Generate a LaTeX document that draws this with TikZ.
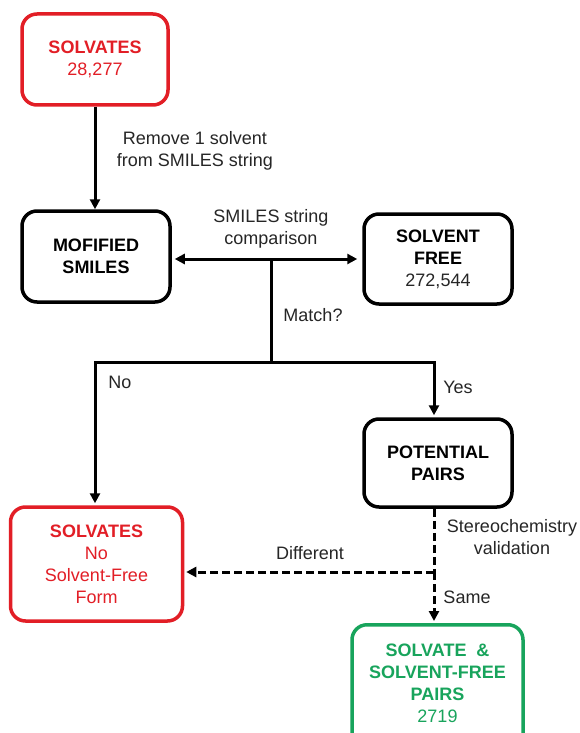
\documentclass[tikz,border=0pt]{standalone}
\usepackage{fontspec}
\setmainfont{Liberation Sans}
\usetikzlibrary{arrows.meta}
\definecolor{myred}{RGB}{226,30,38}
\definecolor{mygreen}{RGB}{24,164,92}
\definecolor{txt}{RGB}{38,38,38}
\begin{document}
\begin{tikzpicture}[x=1pt,y=-1pt,
 box/.style={draw, line width=3.5pt, rounded corners=15pt, align=center, inner sep=0pt, font=\fontsize{18}{22}\selectfont},
 lbl/.style={align=center, text=txt, font=\fontsize{18}{22}\selectfont, inner sep=0pt},
 tip/.style={-{Triangle[length=10pt,width=10pt]}},
 arr/.style={line width=3pt, tip},
 ln/.style={line width=3pt},
 dsh/.style={dash pattern=on 8pt off 4pt}]
\useasboundingbox (0,0) rectangle (580,733);
\fill[white] (0,0) rectangle (580,733);
\clip (0,0) rectangle (580,733);

\node[box, draw=myred, text=myred, minimum width=146pt, minimum height=91pt] (solv) at (95,59.5) {\textbf{SOLVATES}\\28,277};
\node[box, minimum width=148pt, minimum height=91pt] (mod) at (96,256.5) {\textbf{MOFIFIED}\\\textbf{SMILES}};
\node[box, minimum width=148pt, minimum height=90pt] (sf) at (438,259) {\textbf{SOLVENT}\\\textbf{FREE}\\\textcolor{txt}{272,544}};
\node[box, minimum width=148pt, minimum height=88pt] (pp) at (438,463) {\textbf{POTENTIAL}\\\textbf{PAIRS}};
\node[box, draw=myred, text=myred, minimum width=172pt, minimum height=114pt] (nosf) at (96.5,564) {\textbf{SOLVATES}\\No\\Solvent-Free\\Form};
\node[box, draw=mygreen, minimum width=171pt, minimum height=134pt, anchor=north] (pairs) at (437.5,623) {};
\node[lbl, text=mygreen] (pairstext) at (437.5,683) {\textbf{SOLVATE \ \&}\\\textbf{SOLVENT-FREE}\\\textbf{PAIRS}\\2719};

\coordinate (cmp) at (271,259);
\coordinate (split) at (271,362);
\coordinate (lt) at (95,362);
\coordinate (rt) at (434,362);
\coordinate (dj) at (434,572);

\draw[arr] (solv.south) -- (solv.south |- mod.north);
\draw[line width=3pt, {Triangle[length=10pt,width=10pt]}-{Triangle[length=10pt,width=10pt]}, shorten <=3pt, shorten >=5pt] (mod.east |- cmp) -- (sf.west |- cmp);
\draw[ln] (cmp) -- (split);
\draw[arr, shorten >=2pt, line join=miter] (split) -- (lt) -- (lt |- nosf.north);
\draw[arr, shorten >=2pt, line join=miter] (split) -- (rt) -- (rt |- pp.north);
\draw[ln, dsh] (pp.south -| dj) -- (dj);
\draw[arr, dsh, shorten >=2pt] (dj) -- (nosf.east |- dj);
\draw[arr, dsh, shorten >=2pt] (dj) -- (dj |- pairs.north);

\node[lbl] (l1) at (195,151) {Remove 1 solvent\\from SMILES string};
\node[lbl] (l2) at (271,229) {SMILES string\\comparison};
\node[lbl] (l3) at (313,315) {Match?};
\node[lbl] (l4) at (120,382) {No};
\node[lbl] (l5) at (458,387) {Yes};
\node[lbl] (l6) at (310,553) {Different};
\node[lbl] (l7) at (512,537) {Stereochemistry\\validation};
\node[lbl] (l8) at (467,597) {Same};
\end{tikzpicture}
\end{document}
